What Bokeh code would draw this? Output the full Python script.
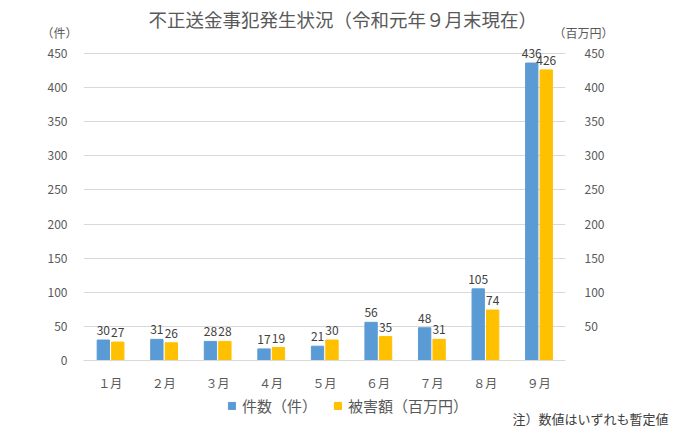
from bokeh.plotting import figure
from bokeh.layouts import column
from bokeh.models import (FactorRange, Range1d, LinearAxis, FixedTicker, ColumnDataSource,
                          LabelSet, Label, Legend, LegendItem, Title)
from bokeh.transform import dodge
from bokeh.core.properties import value
from bokeh.embed import file_html
from bokeh.resources import INLINE

months = ["１月", "２月", "３月", "４月", "５月", "６月", "７月", "８月", "９月"]
cases = [30, 31, 28, 17, 21, 56, 48, 105, 436]
damage = [27, 26, 28, 19, 30, 35, 31, 74, 426]
y_ticks = [0, 50, 100, 150, 200, 250, 300, 350, 400, 450]
y2_ticks = [50, 100, 150, 200, 250, 300, 350, 400, 450]
series = ["件数（件）", "被害額（百万円）"]

FONT = "Noto Sans CJK JP"
GRAY = "#595959"
BLUE = "#5B9BD5"
YELLOW = "#FFC000"

src = ColumnDataSource(dict(m=months, cases=cases, damage=damage,
                            cl=[str(v) for v in cases], dl=[str(v) for v in damage]))

# frame extends a little above 450 so the top data labels are not clipped
p = figure(width=680, height=394, x_range=FactorRange(*months, range_padding=0),
           y_range=Range1d(0, 480.8), output_backend="svg", toolbar_location=None,
           min_border_left=83, min_border_right=115, min_border_top=32, min_border_bottom=34)
p.outline_line_color = None

p.vbar(x=dodge("m", -0.13, range=p.x_range), top="cases", width=0.23, source=src,
       fill_color=BLUE, line_color=BLUE)
p.vbar(x=dodge("m", 0.14, range=p.x_range), top="damage", width=0.23, source=src,
       fill_color=YELLOW, line_color=YELLOW)

for col, lab, off in (("cases", "cl", -0.13), ("damage", "dl", 0.14)):
    p.add_layout(LabelSet(x=dodge("m", off, range=p.x_range), y=col, text=lab, source=src,
                          y_offset=5, text_align="center", text_baseline="bottom",
                          text_font=value(FONT), text_font_size=value("12px"),
                          text_color="#404040"))

p.yaxis.ticker = FixedTicker(ticks=y_ticks)
ax1 = p.yaxis[0]
ax2 = LinearAxis(ticker=FixedTicker(ticks=y2_ticks))
p.add_layout(ax2, "right")
for ax in (ax1, ax2):
    ax.axis_line_color = None
    ax.major_tick_line_color = None
    ax.minor_tick_line_color = None
    ax.major_label_text_font = FONT
    ax.major_label_text_font_size = "12px"
    ax.major_label_text_color = GRAY
    ax.axis_label_text_font = FONT
    ax.axis_label_text_font_size = "12px"
    ax.axis_label_text_color = GRAY
    ax.axis_label_text_font_style = "normal"
    ax.axis_label_orientation = "horizontal"
    ax.axis_label_align = "end"
ax1.major_label_standoff = 10
ax2.major_label_standoff = 13
ax1.axis_label = "（件）"
ax2.axis_label = "（百万円）"
ax1.axis_label_standoff = -33
ax2.axis_label_standoff = -54

p.xaxis.axis_line_color = "#D9D9D9"
p.xaxis.major_tick_line_color = None
p.xaxis.minor_tick_line_color = None
p.xaxis.major_label_text_font = FONT
p.xaxis.major_label_text_font_size = "12px"
p.xaxis.major_label_text_color = GRAY
p.xaxis.major_label_standoff = 7

p.xgrid.grid_line_color = None
p.ygrid.grid_line_color = "#D9D9D9"
p.ygrid.ticker = FixedTicker(ticks=y_ticks)

p.title = Title(text="不正送金事犯発生状況（令和元年９月末現在）", align="left", offset=65,
                standoff=1, text_font=FONT, text_font_size="18.5px", text_color=GRAY,
                text_font_style="normal")

# legend + note strip (proxy bars drawn from the same data, outside the visible range)
q = figure(width=680, height=37, x_range=FactorRange(*months), y_range=Range1d(1000, 1001),
           output_backend="svg", toolbar_location=None, x_axis_location=None,
           y_axis_location=None, min_border=0)
q.outline_line_color = None
q.grid.visible = False
fx = 83
if "frame_align" in q.properties():
    q.frame_align = False
    fx = 0
k1 = q.vbar(x="m", top="cases", width=0.2, source=src, fill_color=BLUE, line_color=BLUE)
k2 = q.vbar(x="m", top="damage", width=0.2, source=src, fill_color=YELLOW, line_color=YELLOW)
legend = Legend(items=[LegendItem(label=series[0], renderers=[k1]),
                       LegendItem(label=series[1], renderers=[k2])],
                orientation="horizontal", location=(227 - fx, 15),
                background_fill_alpha=0, border_line_color=None, padding=0, margin=0,
                label_text_font=FONT, label_text_font_size="15px", label_text_color=GRAY,
                glyph_width=9, glyph_height=9, spacing=16, label_standoff=6)
q.add_layout(legend, "center")
q.add_layout(Label(x=668 - fx, y=13, x_units="screen", y_units="screen",
                   text="注）数値はいずれも暫定値", text_align="right", text_baseline="middle",
                   text_font=FONT, text_font_size="13px", text_color="#404040"))

open("out.html", "w").write(file_html(column(p, q, spacing=0), INLINE))
